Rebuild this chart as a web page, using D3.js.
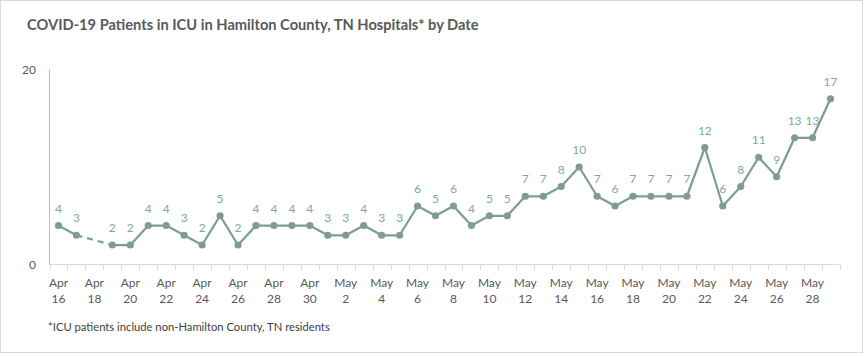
<!DOCTYPE html>
<html><head><meta charset="utf-8">
<script src="https://cdn.jsdelivr.net/npm/d3@7"></script>
<style>body{margin:0;background:#fff}svg{display:block}</style>
</head><body>
<svg id="c" width="867" height="356"></svg>
<script>
const dates = ["Apr 16","Apr 17","Apr 18","Apr 19","Apr 20","Apr 21","Apr 22","Apr 23","Apr 24","Apr 25","Apr 26","Apr 27","Apr 28","Apr 29","Apr 30",
"May 1","May 2","May 3","May 4","May 5","May 6","May 7","May 8","May 9","May 10","May 11","May 12","May 13","May 14","May 15","May 16","May 17","May 18","May 19","May 20","May 21","May 22","May 23","May 24","May 25","May 26","May 27","May 28","May 29"];
const icuPatients = [4,3,null,2,2,4,4,3,2,5,2,4,4,4,4,3,3,4,3,3,6,5,6,4,5,5,7,7,8,10,7,6,7,7,7,7,12,6,8,11,9,13,13,17];
const yTicks = [0,20];
const titleText = "COVID-19  Patients in ICU in Hamilton County, TN Hospitals* by Date";
const footnote = "*ICU patients include non-Hamilton County, TN residents";

const svg = d3.select("#c");
const FONT = "Lato, 'Open Sans', sans-serif";
const lineColor = "#7b9f94";
const labelColor = "#7fa8a6";

svg.append("rect").attr("x",0.5).attr("y",0.5).attr("width",862).attr("height",352)
  .attr("fill","#fff").attr("stroke","#d9d9d9");

function fit(t, w){ const l = t.node().getComputedTextLength(); const fs = parseFloat(t.attr("font-size")); t.attr("font-size", fs*w/l); }

const title = svg.append("text").attr("x",27).attr("y",30).attr("font-family",FONT)
  .attr("font-weight","bold").attr("font-size",15).attr("fill","#595959").text(titleText);
fit(title, 452);

const x = d3.scaleBand().domain(dates).range([49.5, 839.5]);
const y = d3.scaleLinear().domain([0,20]).range([264.5, 69.5]);

// y axis line
svg.append("line").attr("x1",49.5).attr("x2",49.5).attr("y1",y(20)).attr("y2",y(0)).attr("stroke","#bfbfbf");
svg.selectAll(".yl").data(yTicks).enter().append("text")
  .attr("x",36).attr("y",d=>y(d)+4.5).attr("text-anchor","end")
  .attr("font-family",FONT).attr("font-size",12).attr("fill","#595959").text(d=>d);

// x axis
svg.append("line").attr("x1",49.5).attr("x2",839.5).attr("y1",264.5).attr("y2",264.5).attr("stroke","#d9d9d9");
const bounds = dates.map(d=>x(d)).concat([x(dates[dates.length-1])+x.bandwidth()]);
svg.selectAll(".tk").data(bounds).enter().append("line")
  .attr("x1",d=>Math.round(d)+0.5).attr("x2",d=>Math.round(d)+0.5).attr("y1",264.5).attr("y2",270)
  .attr("stroke","#d9d9d9");
const xl = svg.selectAll(".xl").data(dates.filter((d,i)=>i%2===0)).enter().append("text")
  .attr("font-family",FONT).attr("font-size",12).attr("fill","#595959").attr("text-anchor","middle");
xl.append("tspan").attr("x",d=>x(d)+x.bandwidth()/2).attr("y",287).text(d=>d.split(" ")[0]);
xl.append("tspan").attr("x",d=>x(d)+x.bandwidth()/2).attr("y",303).text(d=>d.split(" ")[1]);

const pts = dates.map((d,i)=>({d, v: icuPatients[i], cx: x(d)+x.bandwidth()/2}));
const valid = pts.filter(p=>p.v!==null);
// dashed gap segments
for (let i=1;i<valid.length;i++){
  const a=valid[i-1], b=valid[i];
  const ia=dates.indexOf(a.d), ib=dates.indexOf(b.d);
  if (ib-ia>1){
    svg.append("line").attr("x1",a.cx).attr("y1",y(a.v)).attr("x2",b.cx).attr("y2",y(b.v))
      .attr("stroke",lineColor).attr("stroke-width",2.25).attr("stroke-dasharray","6,5");
  }
}
const line = d3.line().defined(p=>p.v!==null).x(p=>p.cx).y(p=>y(p.v));
svg.append("path").datum(pts).attr("d",line).attr("fill","none")
  .attr("stroke",lineColor).attr("stroke-width",2.25).attr("stroke-linejoin","round");
svg.selectAll(".pt").data(valid).enter().append("circle")
  .attr("cx",p=>p.cx).attr("cy",p=>y(p.v)).attr("r",3.6).attr("fill","#7f9c92");
svg.selectAll(".dl").data(valid).enter().append("text")
  .attr("x",p=>p.cx).attr("y",p=>y(p.v)-13).attr("text-anchor","middle")
  .attr("font-family",FONT).attr("font-size",12).attr("fill",labelColor).text(p=>p.v);

const fn = svg.append("text").attr("x",48).attr("y",331).attr("font-family",FONT)
  .attr("font-size",11).attr("fill","#404040").text(footnote);
fit(fn, 282);
</script>
</body></html>
